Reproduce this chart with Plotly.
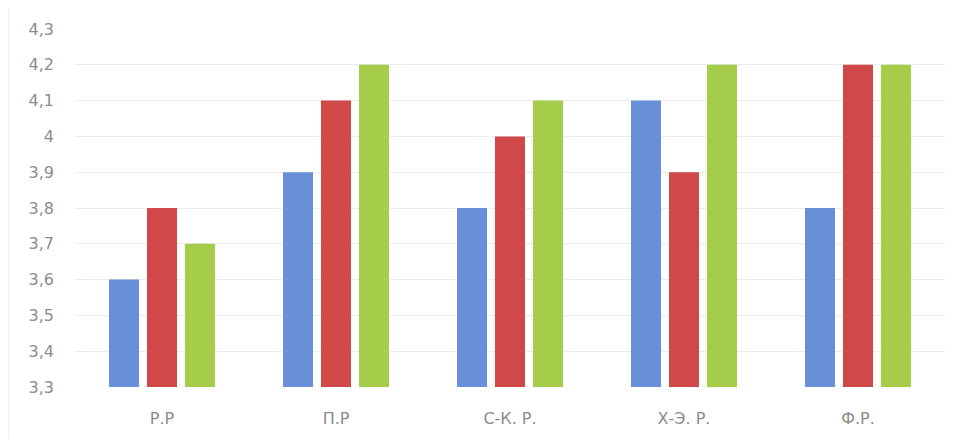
import plotly.graph_objects as go

categories = ["Р.Р", "П.Р", "С-К. Р.", "Х-Э. Р.", "Ф.Р."]
series_1 = [3.6, 3.9, 3.8, 4.1, 3.8]
series_2 = [3.8, 4.1, 4.0, 3.9, 4.2]
series_3 = [3.7, 4.2, 4.1, 4.2, 4.2]
y_tick_values = [3.3, 3.4, 3.5, 3.6, 3.7, 3.8, 3.9, 4.0, 4.1, 4.2, 4.3]
y_tick_labels = ["3,3", "3,4", "3,5", "3,6", "3,7", "3,8", "3,9", "4", "4,1", "4,2", "4,3"]

colors = ["#6890d8", "#d04848", "#a5cd4a"]

fig = go.Figure()
for vals, c in zip([series_1, series_2, series_3], colors):
    fig.add_trace(go.Bar(x=categories, y=vals, marker_color=c,
                         marker_line_width=0, showlegend=False))

fig.update_layout(
    width=961, height=439,
    margin=dict(l=67, r=24, t=21, b=60),
    paper_bgcolor="white", plot_bgcolor="white",
    barmode="group", bargap=0.345, bargroupgap=0.21,
    font=dict(family="DejaVu Sans, sans-serif", size=16, color="#8c8c8c"),
)
fig.update_yaxes(range=[3.3, 4.3], tickvals=y_tick_values, ticktext=y_tick_labels,
                 showgrid=True, gridcolor="#ececec", gridwidth=1, zeroline=False,
                 showline=False, ticks="", ticklabelstandoff=20)
fig.update_xaxes(showgrid=False, showline=False, ticks="", ticklabelstandoff=20,
                 tickfont=dict(size=16))
fig.add_shape(type="line", xref="paper", yref="paper", x0=-0.077, x1=-0.077, y0=-0.17, y1=1.06,
              line=dict(color="#dddddd", width=1))

fig.write_html("out.html")
